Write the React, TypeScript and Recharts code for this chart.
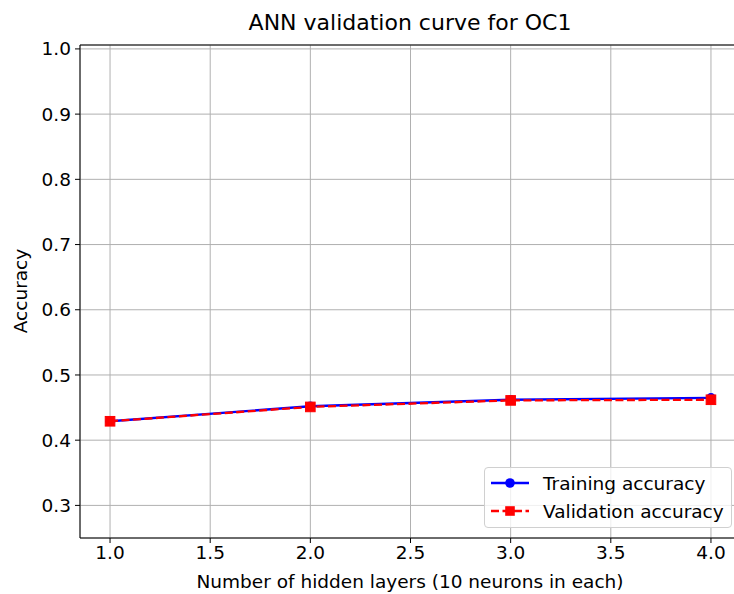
import React from 'react'
import { LineChart, Line, XAxis, YAxis, CartesianGrid, ReferenceLine } from 'recharts'

const layers = [1, 2, 3, 4]
const trainingAcc = [0.429, 0.452, 0.462, 0.465]
const validationAcc = [0.429, 0.451, 0.461, 0.462]
const xTicks = [1.0, 1.5, 2.0, 2.5, 3.0, 3.5, 4.0]
const yTicks = [0.3, 0.4, 0.5, 0.6, 0.7, 0.8, 0.9, 1.0]

const FONT = '"DejaVu Sans", sans-serif'
const FS = 18.5
const BLUE = '#0000ff'
const RED = '#ff0000'
const DASH = '8 3.5'
const MS = 4.8 // marker half-size

const data = layers.map((x, i) => ({ x, train: trainingAcc[i], val: validationAcc[i] }))

const SquareDot = (props: any) => {
  const { cx, cy, index } = props
  if (cx == null || cy == null) return null
  return <rect key={`sq-${index}`} x={cx - MS} y={cy - MS} width={MS * 2} height={MS * 2} fill={RED} stroke={RED} />
}

// matplotlib-style legend box, lower right
const LegendBox = () => (
  <div
    style={{
      position: 'absolute',
      left: 484,
      top: 467,
      width: 248,
      height: 61,
      border: '1px solid #d0d0d0',
      borderRadius: 4,
      background: 'rgba(255,255,255,0.8)',
      fontFamily: FONT,
      fontSize: FS,
      color: '#000',
      boxSizing: 'border-box',
    }}
  >
    {[
      { name: 'Training accuracy', color: BLUE, dash: undefined, shape: 'circle' },
      { name: 'Validation accuracy', color: RED, dash: DASH, shape: 'square' },
    ].map((e, i) => (
      <div key={e.name} style={{ position: 'absolute', left: 4, top: 3 + i * 28, height: 24, display: 'flex', alignItems: 'center', whiteSpace: 'nowrap' }}>
        <svg width={42} height={24}>
          <line x1={2} y1={12} x2={40} y2={12} stroke={e.color} strokeWidth={2.3} strokeDasharray={e.dash} />
          {e.shape === 'circle' ? (
            <circle cx={21} cy={12} r={MS} fill={e.color} />
          ) : (
            <rect x={21 - MS} y={12 - MS} width={MS * 2} height={MS * 2} fill={e.color} />
          )}
        </svg>
        <span style={{ marginLeft: 12 }}>{e.name}</span>
      </div>
    ))}
  </div>
)

export default function App() {
  return (
    <div style={{ position: 'absolute', left: 0, top: 0, width: 734, height: 594, overflow: 'hidden', background: '#fff' }}>
      <LineChart width={760} height={594} data={data} margin={{ top: 45, right: 19, bottom: 0, left: 0 }}>
        <CartesianGrid stroke="#b0b0b0" strokeWidth={1} />
        <XAxis
          dataKey="x"
          type="number"
          domain={[0.85, 4.15]}
          ticks={xTicks}
          tickFormatter={(v) => Number(v).toFixed(1)}
          height={56}
          tickSize={5}
          tickMargin={3}
          stroke="#000"
          tick={{ fill: '#000', fontFamily: FONT, fontSize: FS }}
          axisLine={{ stroke: '#000', strokeWidth: 1 }}
          allowDataOverflow
        />
        <YAxis
          type="number"
          domain={[0.25, 1.006]}
          ticks={yTicks}
          tickFormatter={(v) => Number(v).toFixed(1)}
          width={80}
          tickSize={5}
          tickMargin={4}
          stroke="#000"
          tick={{ fill: '#000', fontFamily: FONT, fontSize: FS }}
          axisLine={{ stroke: '#000', strokeWidth: 1 }}
          allowDataOverflow
        />
        <ReferenceLine y={1.006} stroke="#000" strokeWidth={1} ifOverflow="extendDomain" />
        <Line
          type="linear"
          dataKey="train"
          name="Training accuracy"
          stroke={BLUE}
          strokeWidth={2.3}
          dot={{ r: MS, fill: BLUE, stroke: BLUE, strokeWidth: 0 }}
          activeDot={false}
          isAnimationActive={false}
        />
        <Line
          type="linear"
          dataKey="val"
          name="Validation accuracy"
          stroke={RED}
          strokeWidth={2.3}
          strokeDasharray={DASH}
          dot={<SquareDot />}
          activeDot={false}
          isAnimationActive={false}
        />
      </LineChart>
      <LegendBox />
      <svg width={734} height={594} style={{ position: 'absolute', left: 0, top: 0, pointerEvents: 'none' }}>
        <text x={410} y={30} textAnchor="middle" fontFamily={FONT} fontSize={22} fill="#000">
          ANN validation curve for OC1
        </text>
        <text x={410} y={588} textAnchor="middle" fontFamily={FONT} fontSize={FS} fill="#000">
          Number of hidden layers (10 neurons in each)
        </text>
        <text x={20} y={291} textAnchor="middle" dominantBaseline="central" fontFamily={FONT} fontSize={FS} fill="#000" transform="rotate(-90 20 291)">
          Accuracy
        </text>
      </svg>
    </div>
  )
}
